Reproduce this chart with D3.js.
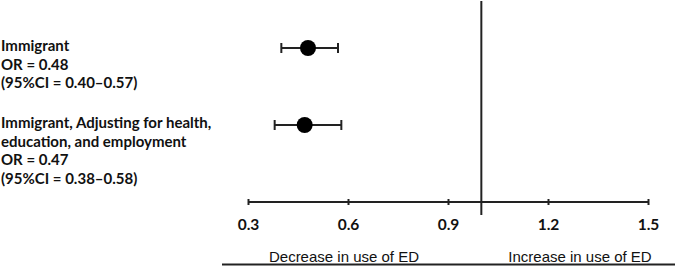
<!DOCTYPE html>
<html><head><meta charset="utf-8">
<script src="https://cdn.jsdelivr.net/npm/d3@7"></script>
<style>
html,body{margin:0;padding:0;background:#fff;}
svg{display:block;}
</style></head>
<body><svg id="c" width="675" height="268"></svg>
<script>
const categories = ["Immigrant", "Immigrant, Adjusting for health, education, and employment"];
const labelLines = [
  ["Immigrant", "OR = 0.48", "(95%CI = 0.40\u20130.57)"],
  ["Immigrant, Adjusting for health,", "education, and employment", "OR = 0.47", "(95%CI = 0.38\u20130.58)"]
];
const oddsRatio = [0.48, 0.47];
const ciLow = [0.40, 0.38];
const ciHigh = [0.57, 0.58];
const tickValues = [0.3, 0.6, 0.9, 1.2, 1.5];
const refValue = 1.0;
const directionLabels = ["Decrease in use of ED", "Increase in use of ED"];

const svg = d3.select("#c");
const x = d3.scaleLinear().domain([0.3, 1.5]).range([248, 648]);
const y = d3.scalePoint().domain(categories).range([48, 125]);
const axisY = 202;

// reference line
svg.append("line").attr("x1", x(refValue)).attr("x2", x(refValue))
  .attr("y1", 1).attr("y2", 215).attr("stroke", "#222").attr("stroke-width", 2);

// axis
const ax = svg.append("g").attr("transform", `translate(0,${axisY})`)
  .call(d3.axisBottom(x).tickValues(tickValues).tickSize(3).tickSizeOuter(0).tickPadding(14)
    .tickFormat(d3.format(".1f")));
ax.select(".domain").attr("stroke", "#222").attr("stroke-width", 2)
  .attr("d", `M${x(0.3)},0H${x(1.5)}`);
ax.selectAll(".tick line").attr("y1", -3).attr("y2", 3).attr("stroke", "#222").attr("stroke-width", 2);
ax.selectAll(".tick text").attr("font-family", "Lato, sans-serif").attr("font-weight", "bold")
  .attr("font-size", 15.5).attr("fill", "#111");

// CI whiskers
const rows = categories.map((c, i) => ({c, or: oddsRatio[i], lo: ciLow[i], hi: ciHigh[i]}));
const g = svg.append("g");
g.selectAll("line.ci").data(rows).join("line").attr("class", "ci")
  .attr("x1", d => x(d.lo)).attr("x2", d => x(d.hi))
  .attr("y1", d => y(d.c)).attr("y2", d => y(d.c))
  .attr("stroke", "#222").attr("stroke-width", 2);
["lo", "hi"].forEach(k => {
  g.selectAll("line.cap" + k).data(rows).join("line").attr("class", "cap" + k)
    .attr("x1", d => x(d[k])).attr("x2", d => x(d[k]))
    .attr("y1", d => y(d.c) - 5).attr("y2", d => y(d.c) + 5)
    .attr("stroke", "#222").attr("stroke-width", 2);
});
g.selectAll("circle").data(rows).join("circle")
  .attr("cx", d => x(d.or)).attr("cy", d => y(d.c)).attr("r", 8).attr("fill", "#000");

// left labels
const firstLineY = [46, 123];
labelLines.forEach((lines, i) => {
  const t = svg.append("text").attr("font-family", "Lato, sans-serif").attr("font-weight", "bold")
    .attr("font-size", 15).attr("fill", "#111");
  lines.forEach((s, j) => {
    t.append("tspan").attr("x", 1).attr("y", firstLineY[i] + j * 18.5).attr("dy", "0.35em").text(s);
  });
});

// direction labels
svg.append("text").attr("x", 344).attr("y", 257).attr("dy", "0.35em").attr("text-anchor", "middle")
  .attr("font-family", "Liberation Sans, Arial, sans-serif").attr("font-size", 15).attr("fill", "#111")
  .text(directionLabels[0]);
svg.append("text").attr("x", 580).attr("y", 257).attr("dy", "0.35em").attr("text-anchor", "middle")
  .attr("font-family", "Liberation Sans, Arial, sans-serif").attr("font-size", 15).attr("fill", "#111")
  .text(directionLabels[1]);
svg.append("line").attr("x1", 222).attr("x2", 675).attr("y1", 264.5).attr("y2", 264.5)
  .attr("stroke", "#222").attr("stroke-width", 2);
</script>
</body></html>
